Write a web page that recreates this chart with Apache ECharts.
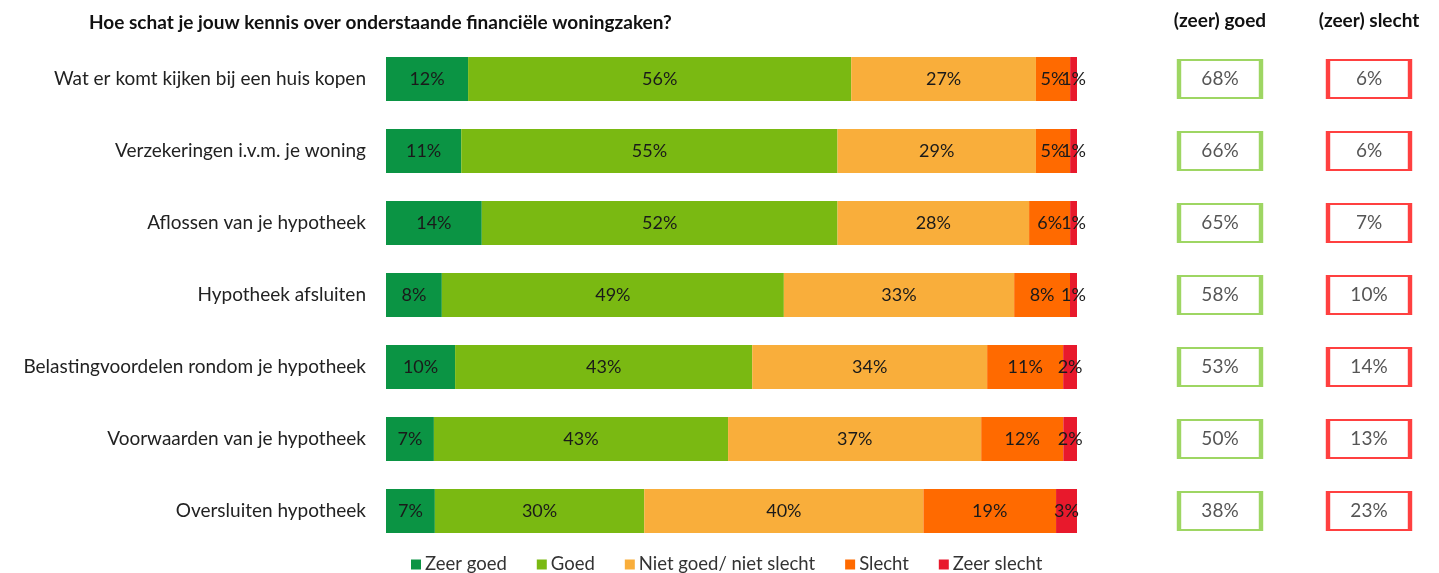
<!DOCTYPE html>
<html>
<head>
<meta charset="utf-8">
<script src="https://cdn.jsdelivr.net/npm/echarts@6/dist/echarts.min.js"></script>
<style>
  html, body { margin: 0; padding: 0; background: #fff; }
  #chart { width: 1439px; height: 573px; }
</style>
</head>
<body>
<div id="chart"></div>
<script>
// data
var categories = [
  'Wat er komt kijken bij een huis kopen',
  'Verzekeringen i.v.m. je woning',
  'Aflossen van je hypotheek',
  'Hypotheek afsluiten',
  'Belastingvoordelen rondom je hypotheek',
  'Voorwaarden van je hypotheek',
  'Oversluiten hypotheek'
];
var seriesNames = ['Zeer goed', 'Goed', 'Niet goed/ niet slecht', 'Slecht', 'Zeer slecht'];
var zeerGoed   = [12, 11, 14, 8, 10, 7, 7];
var goed       = [56, 55, 52, 49, 43, 43, 30];
var neutraal   = [27, 29, 28, 33, 34, 37, 40];
var slecht     = [5, 5, 6, 8, 11, 12, 19];
var zeerSlecht = [1, 1, 1, 1, 2, 2, 3];
var totaalGoed   = [68, 66, 65, 58, 53, 50, 38];
var totaalSlecht = [6, 6, 7, 10, 14, 13, 23];
var boxHeaders = ['(zeer) goed', '(zeer) slecht'];

var colors = ['#0B9444', '#7AB912', '#F9AE3B', '#FF6A00', '#E8192C'];
var font = 'Lato, "Open Sans", sans-serif';

var chart = echarts.init(document.getElementById('chart'));

var rows = [zeerGoed, goed, neutraal, slecht, zeerSlecht];
// rounded labels do not always add up to 100, every bar fills the full width
var totals = categories.map(function (c, i) {
  var s = 0;
  rows.forEach(function (r) { s += r[i]; });
  return s;
});

var series = rows.map(function (r, k) {
  return {
    name: seriesNames[k],
    type: 'bar',
    stack: 'all',
    barWidth: 44,
    xAxisIndex: 0,
    yAxisIndex: 0,
    itemStyle: { color: colors[k] },
    label: {
      show: true,
      position: 'inside',
      color: '#1a1a1a',
      fontFamily: font,
      fontSize: 18,
      formatter: function (p) { return r[p.dataIndex] + '%'; }
    },
    data: r.map(function (v, i) { return v / totals[i] * 100; })
  };
});

function boxSeries(vals, col, border) {
  return {
    type: 'scatter',
    xAxisIndex: 1,
    yAxisIndex: 1,
    symbol: 'rect',
    symbolSize: [82, 38],
    itemStyle: { color: '#fff', borderColor: border, borderWidth: 3 },
    label: {
      show: true,
      position: 'inside',
      color: '#2a2a2a',
      fontFamily: font,
      fontSize: 19,
      formatter: function (p) { return vals[p.dataIndex] + '%'; }
    },
    silent: true,
    data: vals.map(function (v, i) { return [col, categories[i]]; })
  };
}
series.push(boxSeries(totaalGoed, 0, '#86CC3C'));
series.push(boxSeries(totaalSlecht, 1, '#FF1010'));

chart.setOption({
  animation: false,
  title: {
    text: 'Hoe schat je jouw kennis over onderstaande financiële woningzaken?',
    left: 84,
    top: 8,
    textStyle: { fontFamily: font, fontSize: 19, fontWeight: 'bold', color: '#111' }
  },
  legend: {
    data: seriesNames,
    left: 406,
    top: 550,
    icon: 'rect',
    itemWidth: 10,
    itemHeight: 10,
    itemGap: 30,
    textStyle: { fontFamily: font, fontSize: 18.5, color: '#333', padding: [0, 0, 0, -1] }
  },
  grid: [
    { left: 386, right: 362, top: 43, bottom: 26 },
    { left: 1220, width: 149, top: 43, bottom: 26 }
  ],
  xAxis: [
    { type: 'value', gridIndex: 0, min: 0, max: 100, show: false },
    {
      type: 'value', gridIndex: 1, min: 0, max: 1, interval: 1,
      position: 'top',
      axisLine: { show: false },
      axisTick: { show: false },
      splitLine: { show: false },
      axisLabel: {
        margin: 13,
        fontFamily: font,
        fontSize: 19,
        fontWeight: 'bold',
        color: '#111',
        formatter: function (v) { return boxHeaders[v]; }
      }
    }
  ],
  yAxis: [
    {
      type: 'category',
      gridIndex: 0,
      data: categories,
      inverse: true,
      axisLine: { show: false },
      axisTick: { show: false },
      axisLabel: { margin: 20, fontFamily: font, fontSize: 19, color: '#222' }
    },
    {
      type: 'category',
      gridIndex: 1,
      data: categories,
      inverse: true,
      show: false
    }
  ],
  series: series
});
</script>
</body>
</html>
